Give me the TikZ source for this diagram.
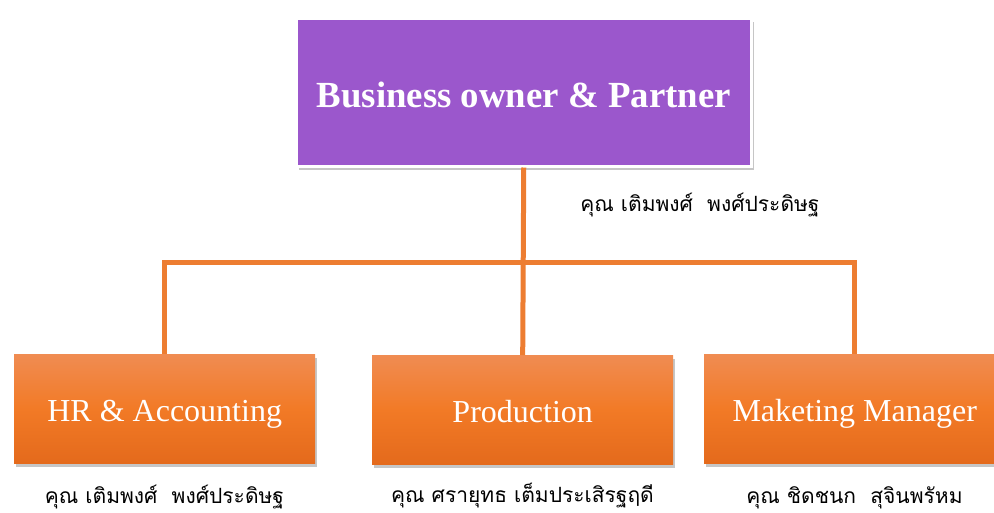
\documentclass[tikz,border=0pt]{standalone}
\usepackage{fontspec}
\setmainfont{Liberation Serif}
\newfontfamily\thaifont[Script=Thai]{Loma}
\usetikzlibrary{shadows}
\definecolor{ownerfill}{RGB}{155,87,204}
\definecolor{linkorange}{RGB}{237,125,49}
\definecolor{boxtop}{RGB}{240,140,82}
\definecolor{boxmid}{RGB}{242,122,38}
\definecolor{boxbot}{RGB}{228,106,28}
\tikzset{
  ownerbox/.style={draw=white, line width=2.5pt, fill=ownerfill, text=white,
    minimum width=455pt, minimum height=148pt, inner sep=0pt,
    text height=33pt, text depth=1.6pt,
    font=\fontsize{36.8}{40}\selectfont\bfseries,
    drop shadow={opacity=0.45, shadow xshift=3pt, shadow yshift=-4pt}},
  deptbox/.style={top color=boxtop, bottom color=boxbot, middle color=boxmid,
    text=white, minimum width=301pt, minimum height=109pt, inner sep=0pt,
    text height=28pt, text depth=2pt,
    font=\fontsize{32}{36}\selectfont,
    drop shadow={opacity=0.45, shadow xshift=2pt, shadow yshift=-4pt}},
  conn/.style={draw=linkorange, line width=5pt, line join=miter},
  person/.style={font=\thaifont\fontsize{21}{24}\selectfont, text=black, inner sep=0pt}
}
\begin{document}
\begin{tikzpicture}[x=1pt,y=-1pt]
  \useasboundingbox (0,0) rectangle (994,512);
  % boxes
  \node[ownerbox, anchor=north west] (owner) at (295,17) {Business owner \& Partner};
  \node[deptbox, anchor=north west] (hr) at (14,354) {HR \& Accounting};
  \node[deptbox, anchor=north west] (prod) at (372,355) {Production};
  \node[deptbox, anchor=north west] (mkt) at (704,354) {Maketing Manager};
  % reporting lines
  \coordinate (bar) at (522.5,262);
  \draw[conn] (owner.south) -- (prod.north);
  \draw[conn] (hr.north) |- (bar) -| (mkt.north);
  % names
  \node[person] (ownername) at (700,205) {คุณ เติมพงศ์~~พงศ์ประดิษฐ};
  \node[person] (hrname) at (164.5,497) {คุณ เติมพงศ์~~พงศ์ประดิษฐ};
  \node[person] (prodname) at (522.5,496) {คุณ ศรายุทธ เต็มประเสิรฐฤดี};
  \node[person] (mktname) at (854.5,498) {คุณ ชิดชนก~~สุจินพรัหม};
\end{tikzpicture}
\end{document}
